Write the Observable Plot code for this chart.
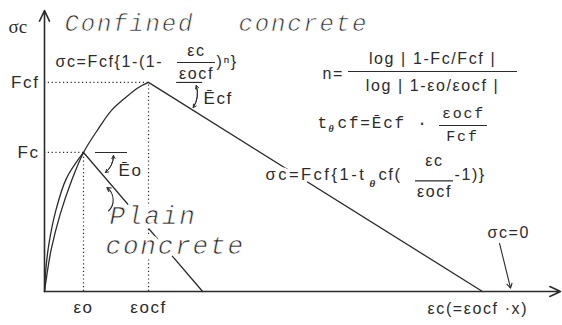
<!DOCTYPE html>
<html><head><meta charset="utf-8">
<script src="https://cdn.jsdelivr.net/npm/d3@7"></script>
<script src="https://cdn.jsdelivr.net/npm/@observablehq/plot@0.6"></script>
<style>
body{margin:0;background:#fff;}
#chart svg{display:block;background:#fff;color:#2b2b2b;}
g[font-family="Liberation Sans"] text{letter-spacing:1.6px;}
g[font-family="Liberation Sans, sans-serif"] text{letter-spacing:2.5px;}
g[font-family="Liberation Mono"] text{letter-spacing:1.8px;}
</style></head><body><div id="chart"></div>
<script>
// ---- key values (normalised: εocf = 1, Fcf = 1) ----
const eps0 = 0.375, epsOcf = 1.0, Fc = 0.665, Fcf = 1.0;
const xAxisMax = 4.96, yAxisMax = 1.344;

// confined concrete, ascending branch
const confinedUpStrain = [0, 0.02, 0.064, 0.151, 0.26, 0.375, 0.52, 0.644, 0.78, 0.904, 1.0];
const confinedUpStress = [0, 0.07, 0.20, 0.37, 0.53, 0.665, 0.78, 0.866, 0.928, 0.976, 1.0];
// confined concrete, descending branch
const confinedDownStrain = [1.0, 4.21];
const confinedDownStress = [1.0, 0];
// plain concrete, ascending branch
const plainUpStrain = [0, 0.012, 0.04, 0.105, 0.21, 0.375];
const plainUpStress = [0, 0.10, 0.22, 0.38, 0.54, 0.665];
// plain concrete, descending branch
const plainDownStrain = [0.375, 1.52];
const plainDownStress = [0.665, 0];

// tick labels
const xTicks = [eps0, epsOcf], xTickLabels = ["εo", "εocf"];
const yTicks = [Fc, Fcf], yTickLabels = ["Fc", "Fcf"];

const pts = (xs, ys) => xs.map((x, i) => ({x, y: ys[i]}));
const SANS = "Liberation Sans", SANS_WIDE = "Liberation Sans, sans-serif", MONO = "Liberation Mono", SERIF = "Liberation Serif";
const INK = "#2b2b2b";

function T(t, x, y, o = {}) {
  const base = {x: "x", y: "y", text: "t", textAnchor: o.anchor || "start",
    fontSize: o.size || 16, fontFamily: o.font || SANS, fontStyle: o.style || "normal",
    fontWeight: o.weight || "normal"};
  const d = [{x, y, t}];
  const marks = [];
  if (o.halo) marks.push(Plot.text(d, {...base, fill: "white", stroke: "white", strokeWidth: o.halo, strokeLinejoin: "round"}));
  if (o.thin) marks.push(Plot.text(d, {...base, fill: INK, stroke: "white", strokeWidth: o.thin, paintOrder: "normal"}));
  else marks.push(Plot.text(d, {...base, fill: INK}));
  return marks;
}
function bar(x1, x2, y) {
  return Plot.ruleY([y], {x1, x2, stroke: INK, strokeWidth: 1.1});
}

const xMap = new Map(xTicks.map((v, i) => [v, xTickLabels[i]]));
const yMap = new Map(yTicks.map((v, i) => [v, yTickLabels[i]]));

const dots = "1.2,2.6";
const plot = Plot.plot({
  width: 562, height: 325,
  marginLeft: 44, marginRight: 2, marginTop: 10, marginBottom: 34,
  x: {domain: [0, xAxisMax]},
  y: {domain: [0, yAxisMax]},
  style: {background: "#fff", overflow: "visible"},
  marks: [
    // dotted guides
    Plot.ruleY([Fcf], {x1: 0, x2: epsOcf, stroke: INK, strokeDasharray: dots, strokeWidth: 1.2}),
    Plot.ruleY([Fc], {x1: 0, x2: eps0, stroke: INK, strokeDasharray: dots, strokeWidth: 1.2}),
    Plot.ruleX([epsOcf], {y1: 0, y2: Fcf, stroke: INK, strokeDasharray: dots, strokeWidth: 1.2}),
    Plot.ruleX([eps0], {y1: 0, y2: Fc, stroke: INK, strokeDasharray: dots, strokeWidth: 1.2}),
    // curves
    Plot.line(pts(confinedUpStrain, confinedUpStress), {x: "x", y: "y", curve: "catmull-rom", stroke: INK, strokeWidth: 1.3}),
    Plot.line(pts(confinedDownStrain, confinedDownStress), {x: "x", y: "y", stroke: INK, strokeWidth: 1.3}),
    Plot.line(pts(plainUpStrain, plainUpStress), {x: "x", y: "y", curve: "catmull-rom", stroke: INK, strokeWidth: 1.3}),
    Plot.line(pts(plainDownStrain, plainDownStress), {x: "x", y: "y", stroke: INK, strokeWidth: 1.3}),
    // axes with arrows
    Plot.arrow([0], {x1: 0, y1: 0, x2: xAxisMax, y2: 0, stroke: INK, strokeWidth: 1.6, headLength: 11, headAngle: 50}),
    Plot.arrow([0], {x1: 0, y1: 0, x2: 0, y2: yAxisMax, stroke: INK, strokeWidth: 1.6, headLength: 11, headAngle: 50}),
    Plot.axisX(xTicks, {anchor: "bottom", tickSize: 0, tickPadding: 9, label: null, tickFormat: d => xMap.get(d), fontSize: 17, fontFamily: SANS, color: INK}),
    Plot.axisY(yTicks, {anchor: "left", tickSize: 0, tickPadding: 5, label: null, tickFormat: d => yMap.get(d), fontSize: 17, fontFamily: SANS, color: INK}),

    // titles
    T("σc", -0.346, 1.267, {size: 19, font: SERIF}),
    T("Confined", 0.192, 1.282, {size: 24, font: MONO, style: "italic", thin: 0.7}),
    T("concrete", 1.865, 1.282, {size: 24, font: MONO, style: "italic", thin: 0.7}),

    // formula 1
    T("σc=Fcf{1-(1-", 0.106, 1.100),
    T("εc", 1.461, 1.153, {anchor: "middle"}),
    bar(1.278, 1.644, 1.095),
    T("εocf", 1.461, 1.043, {anchor: "middle"}),
    T(")ⁿ}", 1.653, 1.100),

    // n formula
    T("n=", 2.672, 1.043),
    T("log | 1-Fc/Fcf |", 3.730, 1.114, {anchor: "middle"}),
    bar(2.922, 4.547, 1.052),
    T("log | 1-εo/εocf |", 3.730, 0.985, {anchor: "middle"}),

    // tθcf formula
    T("t", 2.624, 0.808, {size: 16, font: MONO}),
    T("θ", 2.730, 0.780, {size: 10, font: SERIF, style: "italic", weight: "bold"}),
    T("cf=Ēcf ·", 2.817, 0.808, {size: 16, font: MONO}),
    T("εocf", 4.028, 0.851, {anchor: "middle", size: 15, font: MONO}),
    bar(3.797, 4.258, 0.794),
    T("Fcf", 4.018, 0.741, {anchor: "middle", size: 15, font: MONO}),

    // descending-branch formula (over the line)
    T("σc=Fcf{1-t", 2.124, 0.560, {size: 16.5, font: SANS_WIDE, halo: 7}),
    T("θ", 3.125, 0.517, {size: 11, font: SERIF, style: "italic", weight: "bold"}),
    T("cf(", 3.210, 0.560, {size: 16.5}),
    T("εc", 3.749, 0.626, {anchor: "middle"}),
    bar(3.566, 3.932, 0.529),
    T("εocf", 3.749, 0.475, {anchor: "middle"}),
    T("-1)}", 3.941, 0.556),

    // σc = 0 note
    T("σc=0", 4.258, 0.282),
    Plot.arrow([0], {x1: 4.374, y1: 0.230, x2: 4.480, y2: 0.016, stroke: INK, strokeWidth: 1.1, headLength: 7}),

    // x axis label
    T("εc(=εocf ·x)", 3.682, -0.081, {size: 16}),

    // Ēcf angle
    Plot.ruleY([Fcf], {x1: 1.270, x2: 1.520, stroke: INK, strokeWidth: 1.1}),
    Plot.arrow([0], {x1: 1.430, y1: 0.880, x2: 1.459, y2: 0.985, bend: -25, stroke: INK, strokeWidth: 1, headLength: 5}),
    Plot.arrow([0], {x1: 1.459, y1: 0.985, x2: 1.430, y2: 0.880, bend: 25, stroke: INK, strokeWidth: 1, headLength: 5}),
    T("Ēcf", 1.528, 0.924, {size: 17}),

    // Ēo angle
    Plot.ruleY([Fc], {x1: 0.490, x2: 0.798, stroke: INK, strokeWidth: 1.1}),
    Plot.arrow([0], {x1: 0.586, y1: 0.569, x2: 0.663, y2: 0.650, bend: -25, stroke: INK, strokeWidth: 1, headLength: 5}),
    Plot.arrow([0], {x1: 0.663, y1: 0.650, x2: 0.586, y2: 0.569, bend: 25, stroke: INK, strokeWidth: 1, headLength: 5}),
    T("Ēo", 0.711, 0.579, {size: 17}),

    // plain concrete label
    T("Plain", 0.625, 0.361, {size: 26, font: MONO, style: "italic", halo: 9, thin: 0.7}),
    T("concrete", 0.587, 0.218, {size: 26, font: MONO, style: "italic", halo: 9, thin: 0.7}),
    Plot.arrow([0], {x1: 0.615, y1: 0.385, x2: 0.600, y2: 0.497, bend: -50, stroke: INK, strokeWidth: 1.1, headLength: 6})
  ]
});
document.getElementById("chart").appendChild(plot);
</script></body></html>
